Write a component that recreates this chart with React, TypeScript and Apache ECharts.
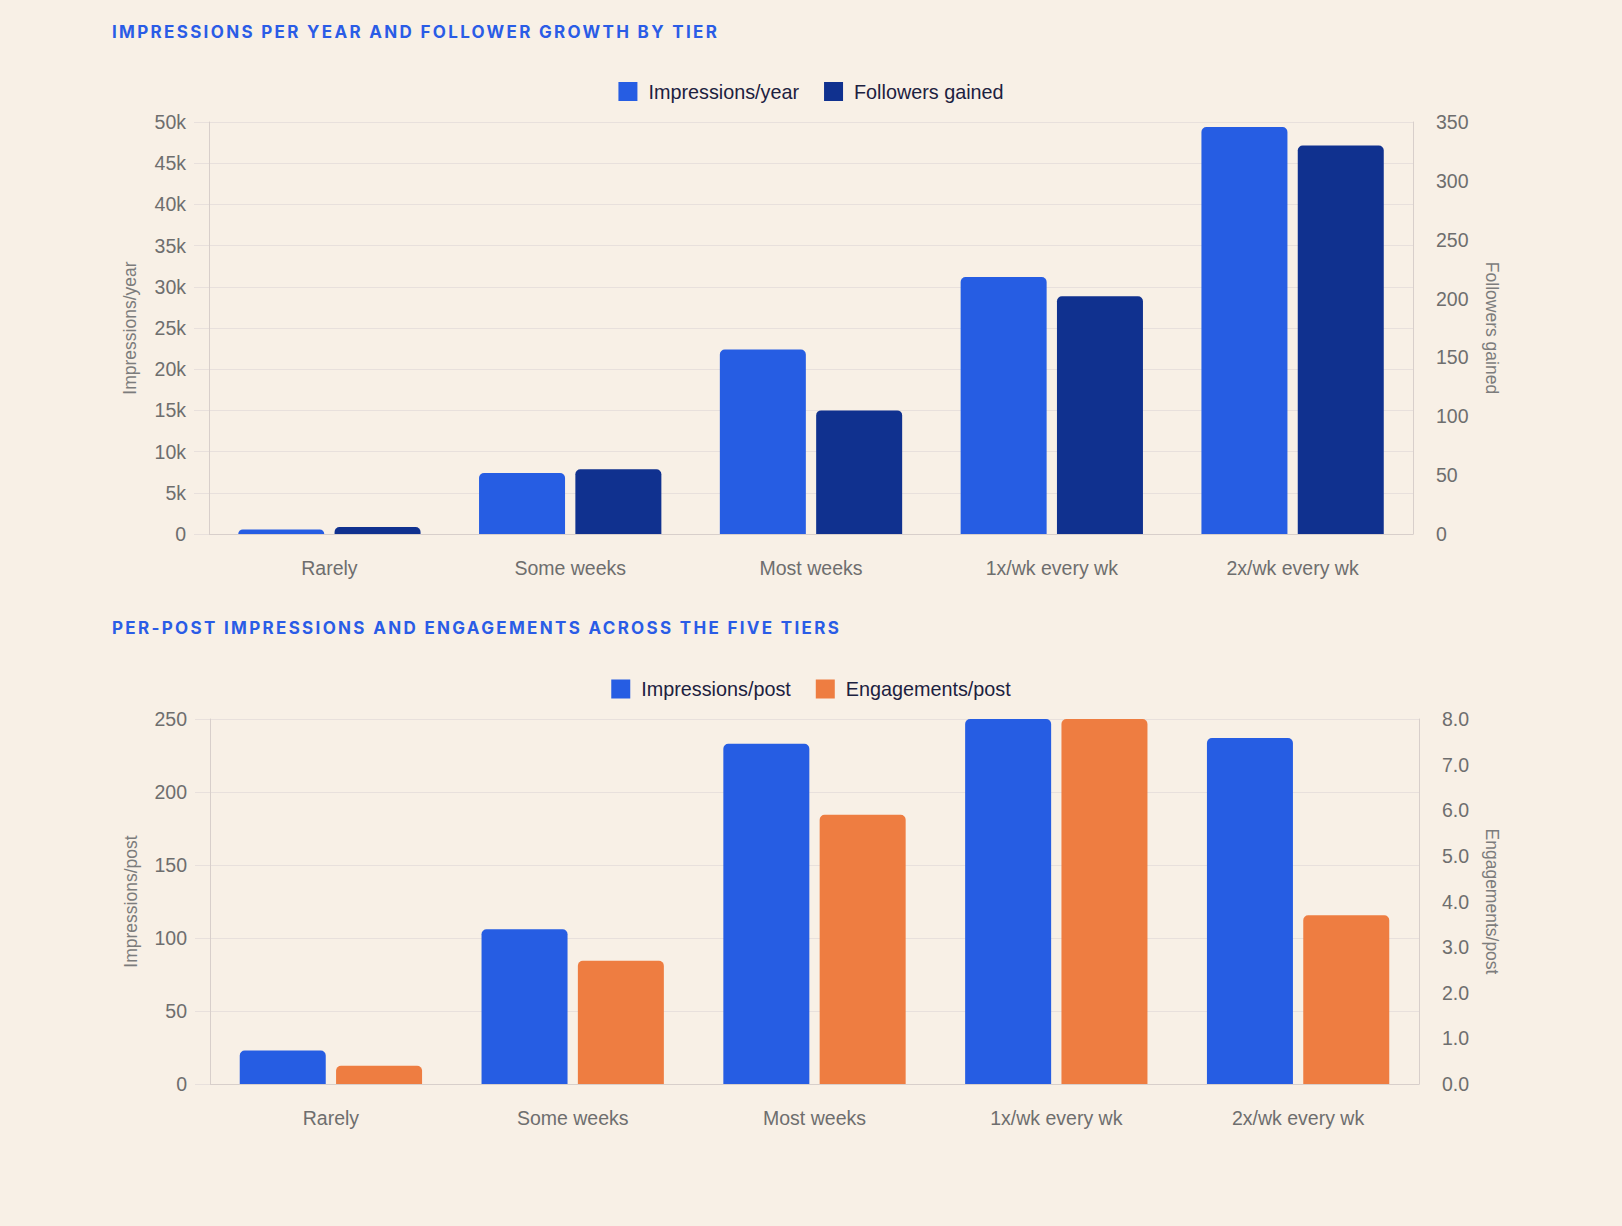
import React, { useEffect, useRef } from "react";
import * as echarts from "echarts";

const categories = ["Rarely", "Some weeks", "Most weeks", "1x/wk every wk", "2x/wk every wk"];
const impressionsPerYear = [550, 7400, 22400, 31200, 49400];
const followersGained = [6, 55, 105, 202, 330];
const impressionsPerPost = [23, 106, 233, 250, 237];
const engagementsPerPost = [0.4, 2.7, 5.9, 8.0, 3.7];

const title1 = "IMPRESSIONS PER YEAR AND FOLLOWER GROWTH BY TIER";
const title2 = "PER-POST IMPRESSIONS AND ENGAGEMENTS ACROSS THE FIVE TIERS";

const BG = "#F8F0E6";
const BLUE = "#265DE3";
const NAVY = "#10318F";
const ORANGE = "#EE7D41";
const GRID = "#E8E0DC";
const AXIS = "#D8CFCB";
const TICK_TEXT = "#6E6E6E";
const NAME_TEXT = "#7C7C7C";
const FONT = '"Liberation Sans", Arial, Helvetica, sans-serif';

function leftAxis(gridIndex: number, max: number, interval: number, name: string, fmt: (v: number) => string) {
  return {
    type: "value",
    gridIndex,
    position: "left",
    min: 0,
    max,
    interval,
    name,
    nameLocation: "middle",
    nameGap: 70,
    nameTextStyle: { fontSize: 17.5, color: NAME_TEXT, fontFamily: FONT },
    axisLine: { show: true, lineStyle: { color: AXIS, width: 1 } },
    axisTick: { show: true, length: 15, lineStyle: { color: GRID, width: 1 } },
    axisLabel: { margin: 23, fontSize: 19.5, color: TICK_TEXT, fontFamily: FONT, formatter: fmt },
    splitLine: { show: true, lineStyle: { color: GRID, width: 1 } },
  };
}

function rightAxis(gridIndex: number, max: number, interval: number, name: string, gap: number, fmt: (v: number) => string) {
  return {
    type: "value",
    gridIndex,
    position: "right",
    min: 0,
    max,
    interval,
    name,
    nameLocation: "middle",
    nameGap: gap,
    nameRotate: -90,
    nameTextStyle: { fontSize: 17.5, color: NAME_TEXT, fontFamily: FONT },
    axisLine: { show: true, lineStyle: { color: AXIS, width: 1 } },
    axisTick: { show: false },
    axisLabel: { margin: 23, fontSize: 19.5, color: TICK_TEXT, fontFamily: FONT, formatter: fmt },
    splitLine: { show: false },
  };
}

function catAxis(gridIndex: number) {
  return {
    type: "category",
    gridIndex,
    data: categories,
    axisLine: { show: true, lineStyle: { color: AXIS, width: 1 } },
    axisTick: { show: false },
    axisLabel: { margin: 24, fontSize: 19.5, color: TICK_TEXT, fontFamily: FONT },
    splitLine: { show: false },
  };
}

function legend(top: number, names: string[]) {
  return {
    left: "center",
    top,
    padding: 0,
    itemWidth: 19,
    itemHeight: 19,
    itemGap: 25,
    icon: "rect",
    data: names,
    textStyle: { fontSize: 19.8, color: "#1C2140", fontFamily: FONT, padding: [0, 0, 0, 6] },
  };
}

function bar(name: string, data: number[], color: string, xAxisIndex: number, yAxisIndex: number) {
  return {
    type: "bar",
    name,
    data,
    xAxisIndex,
    yAxisIndex,
    barWidth: 86,
    barGap: "12%",
    itemStyle: { color, borderRadius: [5, 5, 0, 0] },
  };
}

const kFmt = (v: number) => (v === 0 ? "0" : v / 1000 + "k");
const intFmt = (v: number) => String(v);
const decFmt = (v: number) => v.toFixed(1);

export default function App() {
  const ref = useRef<HTMLDivElement>(null);

  useEffect(() => {
    document.body.style.margin = "0";
    document.body.style.background = BG;
    if (!ref.current) return;
    const chart = echarts.init(ref.current, undefined, { renderer: "svg" });
    chart.setOption({
      animation: false,
      backgroundColor: BG,
      textStyle: { fontFamily: FONT },
      legend: [
        legend(81.5, ["Impressions/year", "Followers gained"]),
        legend(679, ["Impressions/post", "Engagements/post"]),
      ],
      grid: [
        { left: 209, top: 122, width: 1204, height: 412, containLabel: false },
        { left: 210, top: 719, width: 1209, height: 365, containLabel: false },
      ],
      xAxis: [catAxis(0), catAxis(1)],
      yAxis: [
        leftAxis(0, 50000, 5000, "Impressions/year", kFmt),
        rightAxis(0, 350, 50, "Followers gained", 70, intFmt),
        leftAxis(1, 250, 50, "Impressions/post", intFmt),
        rightAxis(1, 8, 1, "Engagements/post", 64, decFmt),
      ],
      series: [
        bar("Impressions/year", impressionsPerYear, BLUE, 0, 0),
        bar("Followers gained", followersGained, NAVY, 0, 1),
        bar("Impressions/post", impressionsPerPost, BLUE, 1, 2),
        bar("Engagements/post", engagementsPerPost, ORANGE, 1, 3),
      ],
    });
    return () => chart.dispose();
  }, []);

  const titleStyle: React.CSSProperties = {
    position: "absolute",
    left: 112,
    fontFamily: 'Inter, "Liberation Sans", Arial, sans-serif',
    fontWeight: 700,
    fontSize: 17,
    letterSpacing: "2.32px",
    color: "#2A5CE6",
    lineHeight: "20px",
    whiteSpace: "nowrap",
  };

  return (
    <div style={{ position: "absolute", left: 0, top: 0, width: 1622, height: 1226, background: BG, overflow: "hidden" }}>
      <div ref={ref} style={{ position: "absolute", left: 0, top: 0, width: 1622, height: 1226 }} />
      <div style={{ ...titleStyle, top: 22 }}>{title1}</div>
      <div style={{ ...titleStyle, top: 618 }}>{title2}</div>
    </div>
  );
}
